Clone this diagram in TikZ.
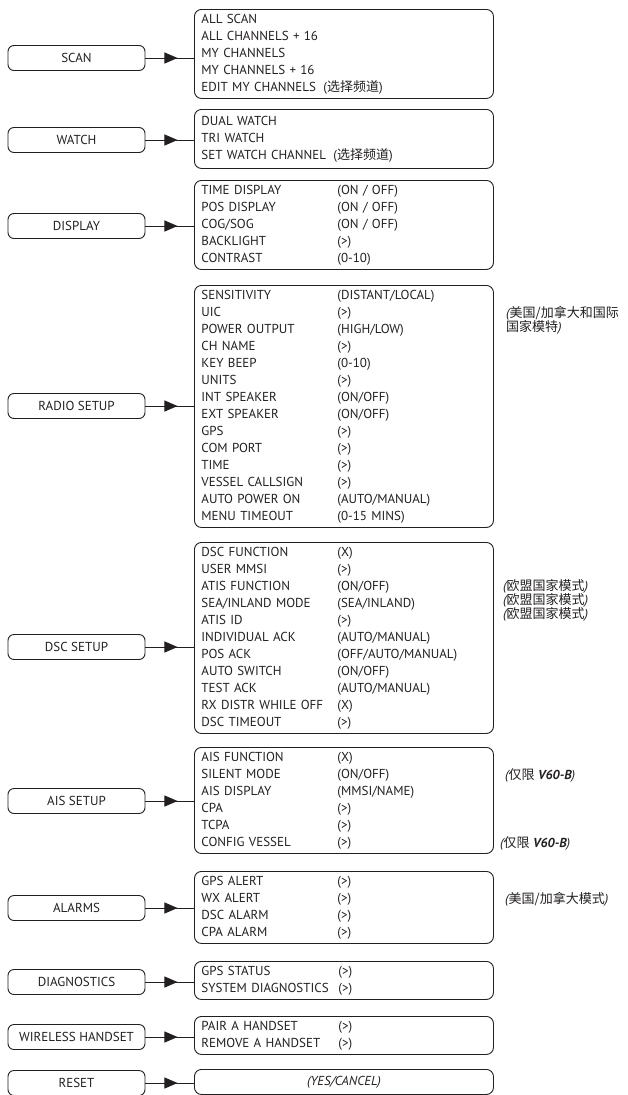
\documentclass[tikz,border=0pt]{standalone}
\usepackage{fontspec}
\setmainfont{PT Sans}
\newfontfamily\cjk{Noto Sans CJK SC}
\usepackage{tikz}
\usetikzlibrary{arrows.meta,positioning,decorations.markings}
\definecolor{ink}{HTML}{231F20}
\newcommand{\zh}[1]{{\cjk #1}}

\begin{document}
\begin{tikzpicture}[
  x=1pt, y=-1pt,
  every node/.style={font=\fontsize{13}{17}\selectfont, text=ink},
  key/.style={draw=ink,line width=0.9pt,rounded corners=6pt,minimum width=137pt,minimum height=25pt,inner xsep=1pt},
  menu/.style={draw=ink,line width=0.9pt,rounded corners=7pt,anchor=north west,text width=285pt,inner xsep=7pt,inner ysep=2pt,align=left},
  note/.style={anchor=west,inner sep=0pt,align=left,font=\fontsize{13}{14}\selectfont\itshape},
  link/.style={draw=ink,line width=0.9pt,postaction={decorate},
    decoration={markings,mark=at position 0.66 with {\arrow{Triangle[length=13pt,width=11pt]}}}}
]
  \useasboundingbox (0,0) rectangle (627,1095);

  % top level keys
  \node[key] (k1) at (76.5,58) {SCAN};
  \node[key] (k2) at (76.5,140) {WATCH};
  \node[key] (k3) at (76.5,226) {DISPLAY};
  \node[key] (k4) at (76.5,406) {RADIO SETUP};
  \node[key] (k5) at (76.5,647) {DSC SETUP};
  \node[key] (k6) at (76.5,801) {AIS SETUP};
  \node[key] (k7) at (76.5,908) {ALARMS};
  \node[key] (k8) at (76.5,982) {DIAGNOSTICS};
  \node[key] (k9) at (76.5,1037) {WIRELESS HANDSET};
  \node[key] (k10) at (76.5,1083) {RESET};

  % sub menus
  \node[menu] (m1) at (194,9) {\begin{tabular}{@{}l@{}}
    ALL SCAN\\ ALL CHANNELS + 16\\ MY CHANNELS\\ MY CHANNELS + 16\\
    \makebox[122pt][l]{EDIT MY CHANNELS}(\zh{选择频道})
  \end{tabular}};
  \node[menu,inner ysep=4pt] (m2) at (194,109) {\begin{tabular}{@{}l@{}}
    DUAL WATCH\\ TRI WATCH\\
    \makebox[132pt][l]{SET WATCH CHANNEL}(\zh{选择频道})
  \end{tabular}};
  \node[menu] (m3) at (194,180) {\begin{tabular}{@{}p{136pt}@{}l@{}}
    TIME DISPLAY & (ON / OFF)\\ POS DISPLAY & (ON / OFF)\\ COG/SOG & (ON / OFF)\\
    BACKLIGHT & (>)\\ CONTRAST & (0-10)
  \end{tabular}};
  \node[menu] (m4) at (194,285) {\begin{tabular}{@{}p{136pt}@{}l@{}}
    SENSITIVITY & (DISTANT/LOCAL)\\ UIC & (>)\\ POWER OUTPUT & (HIGH/LOW)\\
    CH NAME & (>)\\ KEY BEEP & (0-10)\\ UNITS & (>)\\ INT SPEAKER & (ON/OFF)\\
    EXT SPEAKER & (ON/OFF)\\ GPS & (>)\\ COM PORT & (>)\\ TIME & (>)\\
    VESSEL CALLSIGN & (>)\\ AUTO POWER ON & (AUTO/MANUAL)\\ MENU TIMEOUT & (0-15 MINS)
  \end{tabular}};
  \node[menu] (m5) at (194,542) {\begin{tabular}{@{}p{136pt}@{}l@{}}
    DSC FUNCTION & (X)\\ USER MMSI & (>)\\ ATIS FUNCTION & (ON/OFF)\\
    SEA/INLAND MODE & (SEA/INLAND)\\ ATIS ID & (>)\\ INDIVIDUAL ACK & (AUTO/MANUAL)\\
    POS ACK & (OFF/AUTO/MANUAL)\\ AUTO SWITCH & (ON/OFF)\\ TEST ACK & (AUTO/MANUAL)\\
    RX DISTR WHILE OFF & (X)\\ DSC TIMEOUT & (>)
  \end{tabular}};
  \node[menu] (m6) at (194,747) {\begin{tabular}{@{}p{136pt}@{}l@{}}
    AIS FUNCTION & (X)\\ SILENT MODE & (ON/OFF)\\ AIS DISPLAY & (MMSI/NAME)\\
    CPA & (>)\\ TCPA & (>)\\ CONFIG VESSEL & (>)
  \end{tabular}};
  \node[menu] (m7) at (194,871) {\begin{tabular}{@{}p{136pt}@{}l@{}}
    GPS ALERT & (>)\\ WX ALERT & (>)\\ DSC ALARM & (>)\\ CPA ALARM & (>)
  \end{tabular}};
  \node[menu] (m8) at (194,961) {\begin{tabular}{@{}p{137pt}@{}l@{}}
    GPS STATUS & (>)\\ SYSTEM DIAGNOSTICS & (>)
  \end{tabular}};
  \node[menu] (m9) at (194,1016) {\begin{tabular}{@{}p{137pt}@{}l@{}}
    PAIR A HANDSET & (>)\\ REMOVE A HANDSET & (>)
  \end{tabular}};
  \node[menu,align=center,minimum height=25pt] (m10) at (194,1069) {\itshape (YES/CANCEL)};

  % links
  \foreach \i in {1,...,10}
    \draw[link] (k\i.east) -- (k\i.east -| m\i.west);

  % side notes
  \node[note,anchor=north west] (n1) at (506,306) {(\zh{美国/加拿大和国际}\\\zh{国家模特})};
  \node[note] (n2) at (503,600) {(\zh{欧盟国家模式})\\(\zh{欧盟国家模式})\\(\zh{欧盟国家模式})};
  \node[note] (n3) at (505,775) {(\zh{仅限} {\bfseries V60-B})};
  \node[note] (n4) at (500,843) {(\zh{仅限} {\bfseries V60-B})};
  \node[note] (n5) at (505,899) {(\zh{美国/加拿大模式})};
\end{tikzpicture}
\end{document}
